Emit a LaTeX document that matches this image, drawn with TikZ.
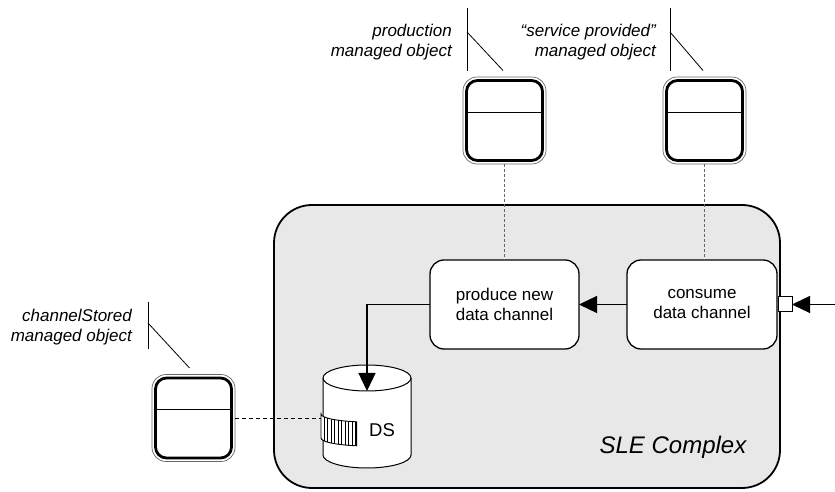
\documentclass[tikz,border=0pt]{standalone}
\usepackage{fontspec}
\setmainfont{Liberation Sans}
\usetikzlibrary{arrows.meta}
\definecolor{slegray}{RGB}{232,232,232}

\begin{document}
\begin{tikzpicture}[x=1pt,y=1pt,
  proc/.style={draw, fill=white, line width=1.3pt, rounded corners=14pt, minimum width=149pt, minimum height=89pt, align=center, font=\fontsize{17}{20}\selectfont, inner sep=0pt, outer sep=0pt},
  mobox/.style={draw, fill=white, line width=2.8pt, rounded corners=11pt, minimum width=76pt, minimum height=80pt, inner sep=0pt, outer sep=0pt},
  moline/.style={line width=0.7pt, black!60, rounded corners=14pt},
  note/.style={align=right, font=\fontsize{17}{20}\selectfont\itshape, inner sep=0pt, anchor=east},
  leader/.style={line width=0.8pt},
  flow/.style={line width=1.3pt, -{Triangle[length=18pt,width=17pt]}},
  link/.style={line width=0.8pt, dash pattern=on 3pt off 2pt, black!60}]
  \useasboundingbox (0,0) rectangle (835,492);
  \draw[line width=1.8pt, fill=slegray, rounded corners=38pt] (274,4) rectangle (780,287);
  \node[font=\fontsize{24}{28}\selectfont\itshape] (slelbl) at (673,45) {SLE Complex};
  \node[proc] (produce) at (504.5,187.5) {produce new\\data channel};
  \node[proc, minimum width=150pt] (consume) at (702,187.5) {consume\\data channel};
  \node[draw, fill=white, line width=1pt, minimum width=14pt, minimum height=15pt, inner sep=0pt, outer sep=0pt] (port) at (785,187.5) {};
  \coordinate (feed) at (835,187.5);
  \draw[line width=1pt, fill=white] (323,114) -- (323,37) arc[start angle=180, end angle=360, x radius=44, y radius=13] -- (411,114) arc[start angle=0, end angle=180, x radius=44, y radius=13] -- cycle;
  \draw[line width=1pt] (323,114) arc[start angle=180, end angle=360, x radius=44, y radius=13];
  \coordinate (dstop) at (367,101);
  \coordinate (dsport) at (321,74);
  \begin{scope}
    \clip (321,78) arc[start angle=180, end angle=257, x radius=46, y radius=8] -- ++(0,-24) arc[start angle=257, end angle=180, x radius=46, y radius=8] -- cycle;
    \fill[white] (300,30) rectangle (370,90);
    \foreach \x in {324,327.5,...,357}
      \draw[line width=0.8pt] (\x,30) -- (\x,90);
  \end{scope}
  \draw[line width=0.9pt] (321,78) arc[start angle=180, end angle=257, x radius=46, y radius=8] -- ++(0,-24) arc[start angle=257, end angle=180, x radius=46, y radius=8] -- cycle;
  \node[font=\fontsize{18.5}{22}\selectfont] (dslbl) at (382,62) {DS};
  \foreach \name/\x/\y in {mo1/504.5/371.5, mo2/704.5/371.5, mo3/193.5/74} {
    \node[mobox] (\name) at (\x,\y) {};
    \draw[moline] ([shift={(-3.5pt,3.5pt)}]\name.north west) rectangle ([shift={(3.5pt,-3.5pt)}]\name.south east);
    \draw[line width=1pt] ([yshift=-32pt]\name.north west) -- ([yshift=-32pt]\name.north east);
  }
  \node[note] (prodlbl) at (452,450) {production\\managed object};
  \node[note] (servlbl) at (656,450) {“service provided”\\managed object};
  \node[note] (storlbl) at (132,165) {channelStored\\managed object};
  \draw[leader] ([xshift=15pt,yshift=34pt]prodlbl.east) -- ([xshift=15pt,yshift=-29pt]prodlbl.east);
  \draw[leader] ([xshift=15pt,yshift=10pt]prodlbl.east) -- ([shift={(-1.5pt,10pt)}]mo1.north);
  \draw[leader] ([xshift=14pt,yshift=34pt]servlbl.east) -- ([xshift=14pt,yshift=-29pt]servlbl.east);
  \draw[leader] ([xshift=14pt,yshift=10pt]servlbl.east) -- ([shift={(-1.5pt,10pt)}]mo2.north);
  \draw[leader] ([xshift=16pt,yshift=25pt]storlbl.east) -- ([xshift=16pt,yshift=-22pt]storlbl.east);
  \draw[leader] ([xshift=16pt,yshift=4pt]storlbl.east) -- ([shift={(-4pt,10pt)}]mo3.north);
  \draw[link] ([yshift=-3.5pt]mo1.south) -- (produce.north);
  \draw[link] ([yshift=-3.5pt]mo2.south) -- (mo2.south |- consume.north);
  \draw[line width=0.8pt, dash pattern=on 4pt off 3pt] ([xshift=3.5pt]mo3.east) -- (dsport);
  \draw[flow] (feed) -- (port);
  \draw[flow] (consume) -- (produce);
  \draw[flow] (produce.west) -| (dstop);
\end{tikzpicture}
\end{document}
